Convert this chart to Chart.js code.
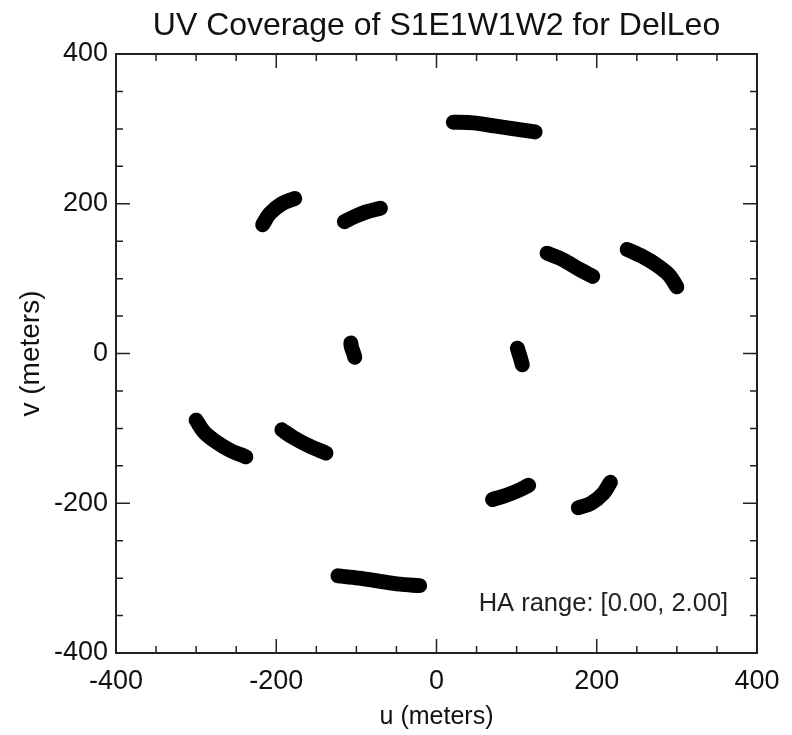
<!DOCTYPE html>
<html>
<head>
<meta charset="utf-8">
<script src="https://cdn.jsdelivr.net/npm/chart.js@4/dist/chart.umd.min.js"></script>
<style>
  html, body { margin: 0; padding: 0; background: #fff; }
  #uv-chart { display: block; }
</style>
</head>
<body>
<canvas id="uv-chart" width="792" height="735"></canvas>
<script>
// uv tracks, in meters
const arcTopU = [21, 46, 72, 97, 123];
const arcTopV = [309, 308, 304, 300, 296];
const arcBottomU = [-21, -46, -72, -97, -123];
const arcBottomV = [-310, -308, -304, -300, -297];

const arcUpLeftU = [-217, -208, -193, -177];
const arcUpLeftV = [172, 187, 200, 207];
const arcLowRightU = [217, 208, 193, 177];
const arcLowRightV = [-172, -187, -200, -206];

const arcUpMidU = [-115, -102, -88, -70];
const arcUpMidV = [176, 183, 189, 194];
const arcLowMidU = [115, 102, 88, 70];
const arcLowMidV = [-176, -183, -189, -195];

const arcRightU = [138, 158, 179, 195];
const arcRightV = [134, 125, 112, 103];
const arcLeftU = [-138, -158, -179, -193];
const arcLeftV = [-133, -124, -112, -102];

const arcFarRightU = [238, 258, 275, 290, 300];
const arcFarRightV = [139, 129, 118, 105, 89];
const arcFarLeftU = [-238, -258, -275, -290, -300];
const arcFarLeftV = [-138, -129, -118, -105, -89];

const arcInnerLeftU = [-107, -106, -104, -102];
const arcInnerLeftV = [14, 8, 2, -5];
const arcInnerRightU = [101, 103, 105, 107];
const arcInnerRightV = [7, 0, -7, -15];

const axisMin = -400;
const axisMax = 400;
const majorStep = 200;
const minorStep = 50;

const chartTitle = 'UV Coverage of S1E1W1W2 for DelLeo';
const haNote = 'HA range: [0.00, 2.00]';

const fontFamily = '"Liberation Sans", Arial, Helvetica, sans-serif';

function track(us, vs) {
    return {
        data: us.map((u, i) => ({ x: u, y: vs[i] })),
        showLine: true,
        borderColor: '#000',
        backgroundColor: '#000',
        borderWidth: 15,
        borderCapStyle: 'round',
        borderJoinStyle: 'round',
        tension: 0.35,
        pointRadius: 0
    };
}

// frame box with inward ticks on all four sides, plus the HA note
const frameTicks = {
    id: 'frameTicks',
    afterDraw(chart) {
        const ctx = chart.ctx;
        const a = chart.chartArea;
        const xs = chart.scales.x;
        const ys = chart.scales.y;
        ctx.save();
        ctx.strokeStyle = '#222';
        ctx.lineWidth = 2;
        ctx.strokeRect(a.left, a.top, a.right - a.left, a.bottom - a.top);
        ctx.lineWidth = 1.5;
        ctx.beginPath();
        xs.ticks.forEach(t => {
            const px = xs.getPixelForValue(t.value);
            const len = t.value % majorStep === 0 ? 14 : 7;
            ctx.moveTo(px, a.bottom);
            ctx.lineTo(px, a.bottom - len);
            ctx.moveTo(px, a.top);
            ctx.lineTo(px, a.top + len);
        });
        ys.ticks.forEach(t => {
            const py = ys.getPixelForValue(t.value);
            const len = t.value % majorStep === 0 ? 14 : 7;
            ctx.moveTo(a.left, py);
            ctx.lineTo(a.left + len, py);
            ctx.moveTo(a.right, py);
            ctx.lineTo(a.right - len, py);
        });
        ctx.stroke();

        ctx.fillStyle = '#222';
        ctx.font = '25.5px ' + fontFamily;
        ctx.textAlign = 'right';
        ctx.textBaseline = 'middle';
        ctx.fillText(haNote, xs.getPixelForValue(364), ys.getPixelForValue(-335));
        ctx.restore();
    }
};

function tickLabel(value) {
    return value % majorStep === 0 ? String(value === 0 ? 0 : value) : '';
}

new Chart(document.getElementById('uv-chart'), {
    type: 'scatter',
    data: {
        datasets: [
            track(arcTopU, arcTopV),
            track(arcBottomU, arcBottomV),
            track(arcUpLeftU, arcUpLeftV),
            track(arcLowRightU, arcLowRightV),
            track(arcUpMidU, arcUpMidV),
            track(arcLowMidU, arcLowMidV),
            track(arcRightU, arcRightV),
            track(arcLeftU, arcLeftV),
            track(arcFarRightU, arcFarRightV),
            track(arcFarLeftU, arcFarLeftV),
            track(arcInnerLeftU, arcInnerLeftV),
            track(arcInnerRightU, arcInnerRightV)
        ]
    },
    options: {
        responsive: false,
        animation: false,
        devicePixelRatio: 1,
        layout: {
            padding: { left: 0, right: 35, top: 0, bottom: 0 }
        },
        plugins: {
            legend: { display: false },
            tooltip: { enabled: false },
            title: {
                display: true,
                fullSize: false,
                text: chartTitle,
                color: '#111',
                font: { family: fontFamily, size: 32, weight: 'normal', lineHeight: 1.2 },
                padding: { top: 7, bottom: 8.6 }
            }
        },
        scales: {
            x: {
                type: 'linear',
                min: axisMin,
                max: axisMax,
                grid: { display: false, drawTicks: false, tickLength: 0 },
                border: { display: false },
                ticks: {
                    stepSize: minorStep,
                    autoSkip: false,
                    maxRotation: 0,
                    padding: 12,
                    color: '#111',
                    font: { family: fontFamily, size: 27 },
                    callback: tickLabel
                },
                title: {
                    display: true,
                    text: 'u (meters)',
                    color: '#111',
                    font: { family: fontFamily, size: 25 },
                    padding: { top: 0, bottom: 3 }
                },
                afterFit(scale) { scale.height = 82; }
            },
            y: {
                type: 'linear',
                min: axisMin,
                max: axisMax,
                grid: { display: false, drawTicks: false, tickLength: 0 },
                border: { display: false },
                ticks: {
                    stepSize: minorStep,
                    autoSkip: false,
                    padding: 8,
                    color: '#111',
                    font: { family: fontFamily, size: 27 },
                    callback: tickLabel
                },
                title: {
                    display: true,
                    text: 'v (meters)',
                    color: '#111',
                    font: { family: fontFamily, size: 28 },
                    padding: { top: 14, bottom: 0 }
                },
                afterFit(scale) { scale.width = 116; }
            }
        }
    },
    plugins: [frameTicks]
});
</script>
</body>
</html>
